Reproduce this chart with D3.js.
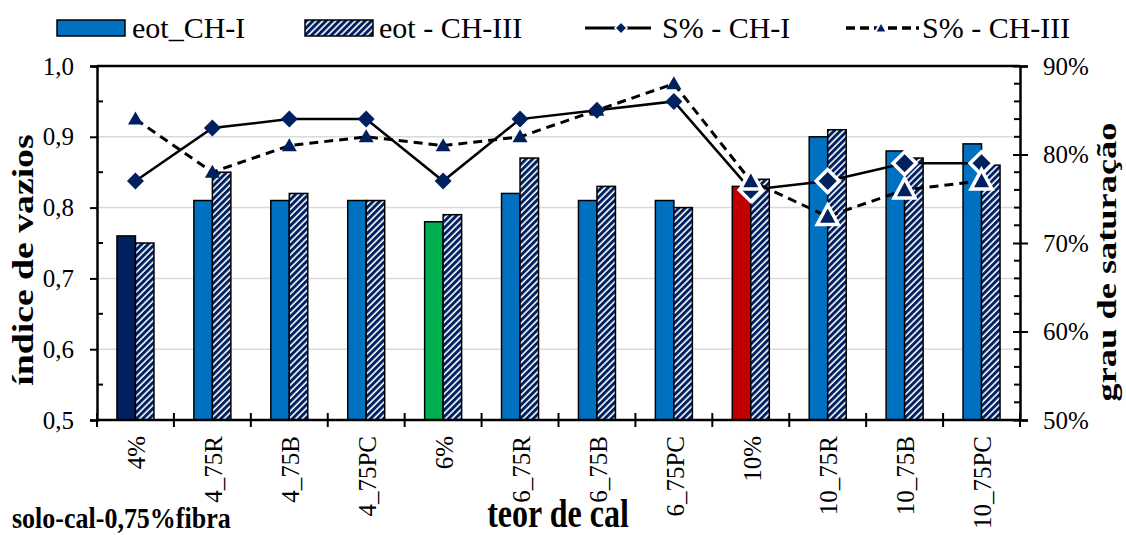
<!DOCTYPE html>
<html>
<head>
<meta charset="utf-8">
<script src="https://cdn.jsdelivr.net/npm/d3@7/dist/d3.min.js"></script>
<style>
  html, body { margin: 0; padding: 0; background: #fff; }
  svg { display: block; }
  text { font-family: "Liberation Serif", "Times New Roman", serif; fill: #000; }
</style>
</head>
<body>
<svg id="chart" width="1126" height="535" font-family="Liberation Serif, Times New Roman, serif"></svg>
<script>
// Categories (lime content + fibre type)
const categories = ["4%", "4_75R", "4_75B", "4_75PC", "6%", "6_75R", "6_75B", "6_75PC", "10%", "10_75R", "10_75B", "10_75PC"];

// Void ratio (índice de vazios) for each curing condition
const eotCH1 = [0.76, 0.81, 0.81, 0.81, 0.78, 0.82, 0.81, 0.81, 0.83, 0.90, 0.88, 0.89];
const eotCH3 = [0.75, 0.85, 0.82, 0.81, 0.79, 0.87, 0.83, 0.80, 0.84, 0.91, 0.87, 0.86];

// Degree of saturation (%)
const satCH1 = [77, 83, 84, 84, 77, 84, 85, 86, 76, 77, 79, 79];
const satCH3 = [84, 78, 81, 82, 81, 82, 85, 88, 77, 73, 76, 77];

// Axis tick labels
const leftTicks = [0.5, 0.6, 0.7, 0.8, 0.9, 1.0];
const leftTickLabels = ["0,5", "0,6", "0,7", "0,8", "0,9", "1,0"];
const rightTicks = [50, 60, 70, 80, 90];
const rightTickLabels = ["50%", "60%", "70%", "80%", "90%"];

// Reference (no fibre) bars get their own colour; outlined markers for the 10% group
const refColors = { "4%": "#002060", "6%": "#00B050", "10%": "#C00000" };
const outlinedCats = ["10%", "10_75R", "10_75B", "10_75PC"];

const NAVY = "#002060", BLUE = "#0070C0";
const SERIF = '"Liberation Serif", "Times New Roman", serif';

const svg = d3.select("#chart");
const M = { left: 97, right: 1020, top: 66, bottom: 420 };

const x = d3.scaleBand().domain(categories).range([M.left, M.right]).paddingInner(0).paddingOuter(0);
const yL = d3.scaleLinear().domain([0.5, 1.0]).range([M.bottom, M.top]);
const yR = d3.scaleLinear().domain([50, 90]).range([M.bottom, M.top]);

// Hatch pattern for CH-III bars
const defs = svg.append("defs");
const pat = defs.append("pattern")
  .attr("id", "hatch").attr("patternUnits", "userSpaceOnUse")
  .attr("width", 4.6).attr("height", 4.6)
  .attr("patternTransform", "rotate(45)");
pat.append("rect").attr("width", 4.6).attr("height", 4.6).attr("fill", "#fff");
pat.append("rect").attr("width", 3).attr("height", 4.6).attr("fill", NAVY);

// Gridlines
svg.append("g").selectAll("line").data([0.6, 0.7, 0.8, 0.9]).join("line")
  .attr("x1", M.left).attr("x2", M.right)
  .attr("y1", d => yL(d)).attr("y2", d => yL(d))
  .attr("stroke", "#D9D9D9").attr("stroke-width", 1.5);

// Bars
const barW = 18.5;
const bars = svg.append("g");
categories.forEach((c, i) => {
  const cx = x(c) + x.bandwidth() / 2;
  bars.append("rect")
    .attr("x", cx - barW).attr("width", barW)
    .attr("y", yL(eotCH1[i])).attr("height", yL(0.5) - yL(eotCH1[i]))
    .attr("fill", refColors[c] || BLUE)
    .attr("stroke", "#000").attr("stroke-width", 1.5);
  bars.append("rect")
    .attr("x", cx).attr("width", barW)
    .attr("y", yL(eotCH3[i])).attr("height", yL(0.5) - yL(eotCH3[i]))
    .attr("fill", "url(#hatch)")
    .attr("stroke", "#000").attr("stroke-width", 1.5);
});

// Frame: top border and axes
svg.append("line").attr("x1", M.left).attr("x2", M.right).attr("y1", M.top).attr("y2", M.top)
  .attr("stroke", "#000").attr("stroke-width", 2.5);

// Left axis
const gL = svg.append("g").attr("transform", `translate(${M.left},0)`);
gL.call(d3.axisLeft(yL).tickValues(leftTicks).tickSize(7).tickFormat((d, i) => leftTickLabels[i]));
gL.attr("font-family", SERIF);
gL.call(g => g.select(".domain").attr("stroke-width", 2.5));
gL.selectAll(".tick line").attr("stroke-width", 2);
gL.selectAll(".tick text").attr("font-size", 25).attr("x", -23).style("font-family", SERIF);
gL.append("g").selectAll("line").data([0.55, 0.65, 0.75, 0.85, 0.95]).join("line")
  .attr("x1", 0).attr("x2", 6).attr("y1", d => yL(d)).attr("y2", d => yL(d))
  .attr("stroke", "#000").attr("stroke-width", 2);

// Right axis
const gR = svg.append("g").attr("transform", `translate(${M.right},0)`);
gR.call(d3.axisRight(yR).tickValues(rightTicks).tickSize(8).tickFormat((d, i) => rightTickLabels[i]));
gR.attr("font-family", SERIF);
gR.call(g => g.select(".domain").attr("stroke-width", 2.5));
gR.selectAll(".tick line").attr("x1", -7).attr("stroke-width", 2);
gR.selectAll(".tick text").attr("font-size", 25).attr("x", 23).style("font-family", SERIF);
gR.append("g").selectAll("line").data(d3.range(52, 90, 2).filter(v => v % 10 !== 0)).join("line")
  .attr("x1", -6).attr("x2", 0).attr("y1", d => yR(d)).attr("y2", d => yR(d))
  .attr("stroke", "#000").attr("stroke-width", 2);

// Bottom axis: ticks on category boundaries
const gB = svg.append("g").attr("transform", `translate(0,${M.bottom})`);
gB.append("line").attr("x1", M.left).attr("x2", M.right).attr("stroke", "#000").attr("stroke-width", 2.5);
const bounds = categories.map(c => x(c)).concat([M.right]);
gB.selectAll("line.tk").data(bounds).join("line").attr("class", "tk")
  .attr("x1", d => d).attr("x2", d => d).attr("y1", -7).attr("y2", 7)
  .attr("stroke", "#000").attr("stroke-width", 2);
gB.selectAll("text").data(categories).join("text")
  .attr("transform", d => `translate(${x(d) + x.bandwidth() / 2 + 1},16) rotate(-90)`)
  .attr("text-anchor", "end").attr("dy", "0.35em")
  .attr("font-size", 25).text(d => d);

// Saturation lines
const line1 = d3.line().x((d, i) => x(categories[i]) + x.bandwidth() / 2).y(d => yR(d));
svg.append("path").datum(satCH1).attr("d", line1)
  .attr("fill", "none").attr("stroke", "#000").attr("stroke-width", 2.5);
svg.append("path").datum(satCH3).attr("d", line1)
  .attr("fill", "none").attr("stroke", "#000").attr("stroke-width", 3)
  .attr("stroke-dasharray", "9,6");

// Marker shapes
const diamond = h => `M0,${-h}L${h},0L0,${h}L${-h},0Z`;
const triangle = (w, t, b) => `M0,${-t}L${w},${b}L${-w},${b}Z`;

const mk = svg.append("g");
categories.forEach((c, i) => {
  const cx = x(c) + x.bandwidth() / 2;
  const big = outlinedCats.includes(c);
  mk.append("path")
    .attr("transform", `translate(${cx},${yR(satCH1[i])})`)
    .attr("d", big ? diamond(11.5) : diamond(8.5))
    .attr("fill", NAVY)
    .attr("stroke", big ? "#fff" : "none").attr("stroke-width", big ? 3.5 : 0);
});
categories.forEach((c, i) => {
  const cx = x(c) + x.bandwidth() / 2;
  const big = outlinedCats.includes(c);
  mk.append("path")
    .attr("transform", `translate(${cx},${yR(satCH3[i])})`)
    .attr("d", big ? triangle(10.5, 11.5, 8) : triangle(7.5, 7.5, 5.5))
    .attr("fill", NAVY)
    .attr("stroke", big ? "#fff" : "none").attr("stroke-width", big ? 3.5 : 0);
});

// Legend
const lg = svg.append("g").attr("font-size", 30);
lg.append("rect").attr("x", 57).attr("y", 20).attr("width", 68).attr("height", 16)
  .attr("fill", BLUE).attr("stroke", "#000").attr("stroke-width", 1.5);
lg.append("text").attr("x", 132).attr("y", 38).text("eot_CH-I");
lg.append("rect").attr("x", 305).attr("y", 20).attr("width", 68).attr("height", 16)
  .attr("fill", "url(#hatch)").attr("stroke", "#000").attr("stroke-width", 1.5);
lg.append("text").attr("x", 379).attr("y", 38).text("eot - CH-III");
lg.append("line").attr("x1", 585).attr("x2", 651).attr("y1", 28).attr("y2", 28)
  .attr("stroke", "#000").attr("stroke-width", 3);
lg.append("path").attr("transform", "translate(621,28)").attr("d", diamond(6))
  .attr("fill", NAVY).attr("stroke", "#fff").attr("stroke-width", 1.5);
lg.append("text").attr("x", 662).attr("y", 38).text("S% - CH-I");
lg.append("line").attr("x1", 846).attr("x2", 919).attr("y1", 28).attr("y2", 28)
  .attr("stroke", "#000").attr("stroke-width", 3.5).attr("stroke-dasharray", "9,5");
lg.append("path").attr("transform", "translate(881,28)").attr("d", triangle(6, 6, 4.5))
  .attr("fill", NAVY).attr("stroke", "#fff").attr("stroke-width", 2);
lg.append("text").attr("x", 922).attr("y", 38).text("S% - CH-III");

// Axis titles
svg.append("text")
  .attr("transform", "translate(33,260) rotate(-90) scale(1.3,1)")
  .attr("text-anchor", "middle").attr("font-size", 29).attr("font-weight", "bold")
  .text("índice de vazios");
svg.append("text")
  .attr("transform", "translate(1116,262) rotate(-90) scale(1.3,1)")
  .attr("text-anchor", "middle").attr("font-size", 28).attr("font-weight", "bold")
  .text("grau de saturação");
svg.append("text")
  .attr("transform", "translate(558,527) scale(1,1.22)")
  .attr("text-anchor", "middle").attr("font-size", 32).attr("font-weight", "bold")
  .text("teor de cal");
svg.append("text")
  .attr("transform", "translate(12,528) scale(1,1.12)")
  .attr("font-size", 26).attr("font-weight", "bold")
  .text("solo-cal-0,75%fibra");
</script>
</body>
</html>
